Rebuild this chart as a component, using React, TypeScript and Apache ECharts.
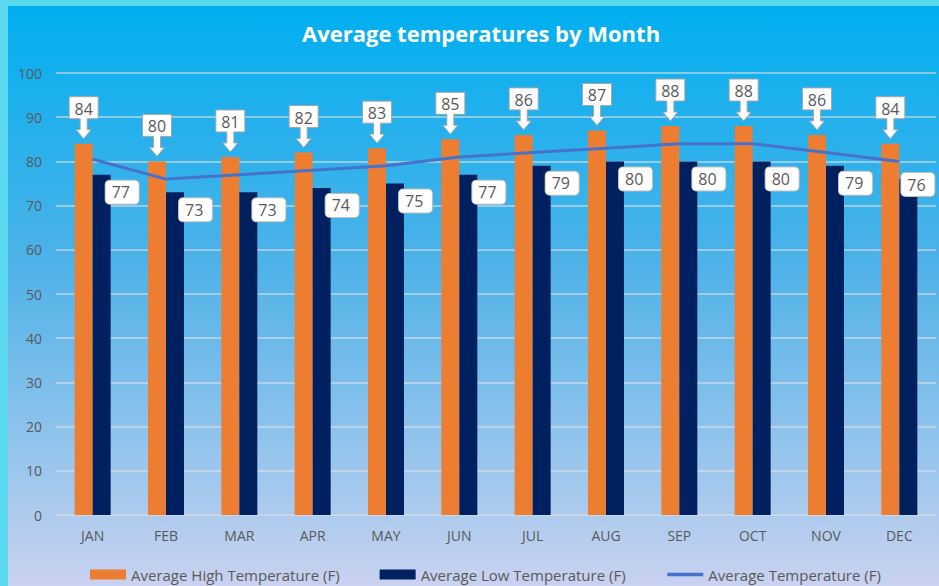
import React, { useEffect, useRef } from "react";
import * as echarts from "echarts";

const months = ["JAN", "FEB", "MAR", "APR", "MAY", "JUN", "JUL", "AUG", "SEP", "OCT", "NOV", "DEC"];
const highTemps = [84, 80, 81, 82, 83, 85, 86, 87, 88, 88, 86, 84];
const lowTemps = [77, 73, 73, 74, 75, 77, 79, 80, 80, 80, 79, 76];
const avgTemps = [80.5, 76, 77, 78, 79, 81, 82, 83, 84, 84, 82, 80];
const yTicks = { min: 0, max: 100, interval: 10 };

const FONT = "'Open Sans', 'Noto Sans', sans-serif";
const GREY = "#595959";

export default function App() {
  const ref = useRef<HTMLDivElement>(null);

  useEffect(() => {
    if (!ref.current) return;
    const chart = echarts.init(ref.current, undefined, { renderer: "svg" });

    const calloutRender = (params: any, api: any) => {
      const p = api.coord([api.value(0), api.value(1)]);
      const x = p[0] - 9;
      const top = p[1];
      const bTop = top - 47;
      const bBot = top - 25;
      const hw = 14.5;
      const pts = [
        [x - hw, bTop], [x + hw, bTop], [x + hw, bBot], [x + 3.5, bBot], [x + 3.5, top - 14],
        [x + 7.5, top - 14], [x, top - 5], [x - 7.5, top - 14], [x - 3.5, top - 14],
        [x - 3.5, bBot], [x - hw, bBot],
      ];
      return {
        type: "group",
        children: [
          {
            type: "polygon",
            shape: { points: pts },
            style: { fill: "#ffffff", stroke: "#a6a6a6", lineWidth: 1 },
          },
          {
            type: "text",
            style: {
              text: String(api.value(1)),
              x: x,
              y: (bTop + bBot) / 2 + 1,
              align: "center",
              verticalAlign: "middle",
              fill: GREY,
              font: `16px ${FONT}`,
            },
          },
        ],
      };
    };

    const lowData = lowTemps.map((v, i) =>
      i === lowTemps.length - 1 ? { value: v, label: { position: [2, -6] } } : { value: v }
    );

    chart.setOption({
      animation: false,
      backgroundColor: new echarts.graphic.LinearGradient(0, 0, 0, 1, [
        { offset: 0, color: "#00aff0" },
        { offset: 0.45, color: "#4fb2e8" },
        { offset: 1, color: "#c9d2f0" },
      ]),
      title: {
        text: "Average temperatures by Month",
        left: 289,
        top: 11,
        textStyle: { color: "#ffffff", fontSize: 22, fontWeight: "bold", fontFamily: FONT },
      },
      legend: {
        left: 77,
        bottom: -1,
        itemWidth: 36,
        itemHeight: 10,
        itemGap: 40,
        textStyle: { color: GREY, fontSize: 15, fontFamily: FONT },
        data: [
          { name: "Average High Temperature (F)", icon: "rect" },
          { name: "Average Low Temperature (F)", icon: "rect" },
          {
            name: "Average Temperature (F)",
            itemStyle: { opacity: 0 },
            lineStyle: { width: 3.5, color: "#4672cc" },
          },
        ],
      },
      grid: { left: 48, right: 3, top: 67, bottom: 71 },
      xAxis: {
        type: "category",
        data: months,
        axisLine: { show: false },
        axisTick: { show: false },
        axisLabel: { color: GREY, fontSize: 14, fontFamily: FONT, margin: 13 },
      },
      yAxis: {
        type: "value",
        min: yTicks.min,
        max: yTicks.max,
        interval: yTicks.interval,
        axisLabel: { color: GREY, fontSize: 14, fontFamily: FONT, margin: 14 },
        splitLine: { lineStyle: { color: "rgba(225,225,225,0.75)", width: 1.5 } },
      },
      series: [
        {
          name: "Average High Temperature (F)",
          type: "bar",
          data: highTemps,
          barWidth: 18,
          barGap: "0%",
          itemStyle: { color: "#ed7d31" },
        },
        {
          name: "Average Low Temperature (F)",
          type: "bar",
          data: lowData,
          barWidth: 18,
          barGap: "0%",
          itemStyle: { color: "#002060" },
          label: {
            show: true,
            position: [13, 6],
            backgroundColor: "#ffffff",
            borderColor: "#bfbfbf",
            borderWidth: 1,
            borderRadius: 4,
            padding: [3, 6, 3, 6],
            width: 21,
            lineHeight: 17,
            align: "left",
            verticalAlign: "top",
            color: GREY,
            fontSize: 16,
            fontFamily: FONT,
          },
        },
        {
          name: "Average Temperature (F)",
          type: "line",
          data: avgTemps,
          symbol: "none",
          lineStyle: { color: "#4672cc", width: 3 },
          itemStyle: { color: "#4672cc" },
          z: 3,
        },
        {
          name: "highCallouts",
          type: "custom",
          data: highTemps.map((v, i) => [i, v]),
          encode: { x: 0, y: 1 },
          renderItem: calloutRender,
          z: 5,
        },
      ],
    });

    return () => chart.dispose();
  }, []);

  return (
    <div style={{ position: "fixed", left: 0, top: 0, width: 939, height: 586, background: "#5ad8f0" }}>
      <div ref={ref} style={{ position: "absolute", left: 8, top: 6, width: 931, height: 580 }} />
    </div>
  );
}
